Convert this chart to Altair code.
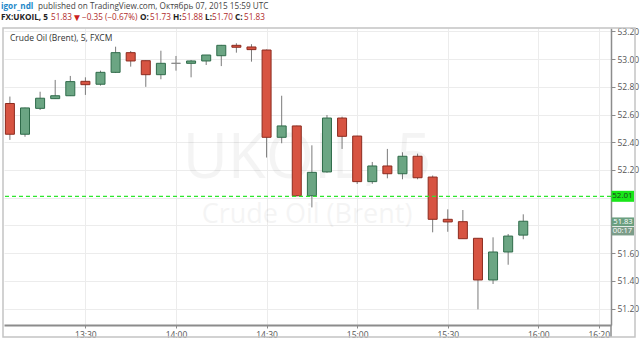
import altair as alt
import pandas as pd

# ---- data (5-minute candles, FX:UKOIL) ----
times = ["13:05", "13:10", "13:15", "13:20", "13:25", "13:30", "13:35", "13:40", "13:45", "13:50",
         "13:55", "14:00", "14:05", "14:10", "14:15", "14:20", "14:25", "14:30", "14:35", "14:40",
         "14:45", "14:50", "14:55", "15:00", "15:05", "15:10", "15:15", "15:20", "15:25", "15:30",
         "15:35", "15:40", "15:45", "15:50", "15:55"]
opens = [52.68, 52.458, 52.645, 52.715, 52.736, 52.84, 52.819, 52.905, 53.047, 52.989,
         52.888, 52.97, 52.97, 52.987, 53.025, 53.10, 53.088, 53.066, 52.436, 52.518,
         52.014, 52.186, 52.575, 52.445, 52.116, 52.229, 52.173, 52.299, 52.149, 51.844,
         51.827, 51.707, 51.406, 51.608, 51.73]
highs = [52.73, 52.65, 52.765, 52.85, 52.879, 52.869, 52.917, 53.09, 53.059, 52.99,
         53.061, 53.023, 52.994, 53.03, 53.103, 53.115, 53.108, 53.07, 52.736, 52.52,
         52.378, 52.597, 52.585, 52.447, 52.258, 52.352, 52.328, 52.318, 52.16, 51.916,
         51.911, 51.707, 51.714, 51.738, 51.88]
lows = [52.417, 52.44, 52.633, 52.713, 52.734, 52.742, 52.809, 52.90, 52.946, 52.80,
        52.855, 52.917, 52.869, 52.958, 52.95, 53.047, 52.982, 52.29, 52.393, 52.01,
        51.93, 52.18, 52.352, 52.099, 52.10, 52.14, 52.133, 52.133, 51.75, 51.754,
        51.704, 51.194, 51.377, 51.516, 51.70]
closes = [52.458, 52.648, 52.718, 52.736, 52.838, 52.816, 52.905, 53.047, 52.987, 52.888,
          52.97, 52.97, 52.987, 53.03, 53.10, 53.086, 53.069, 52.436, 52.518, 52.014,
          52.183, 52.575, 52.443, 52.116, 52.229, 52.173, 52.299, 52.144, 51.844, 51.825,
          51.704, 51.406, 51.608, 51.723, 51.83]

x_ticks = ["13:30", "14:00", "14:30", "15:00", "15:30", "16:00", "16:20"]
y_ticks = [51.2, 51.4, 51.6, 51.8, 52.0, 52.2, 52.4, 52.6, 52.8, 53.0, 53.2]
hidden_y = [51.8, 52.0]
level = 52.01
last_close = 51.83
countdown = "00:17"


def to_min(s):
    h, m = s.split(":")
    return int(h) * 60 + int(m)


df = pd.DataFrame({"t": [to_min(s) for s in times], "open": opens, "high": highs,
                   "low": lows, "close": closes})
df["dir"] = ["up" if c > o else ("down" if c < o else "flat") for o, c in zip(opens, closes)]

W, H = 607, 297
ymin, ymax = 51.081, 53.225
xmin, xmax = 784.7, 982.4
ppu = H / (ymax - ymin)

xs = alt.Scale(domain=[xmin, xmax], nice=False, zero=False)
ys = alt.Scale(domain=[ymin, ymax], nice=False, zero=False)

lbl_expr = "floor(datum.value/60) + ':' + (datum.value % 60 < 10 ? '0' : '') + (datum.value % 60)"
hide_expr = " || ".join([f"abs(datum.value - {v}) < 0.001" for v in hidden_y])

x_axis = alt.Axis(
    values=[to_min(s) for s in x_ticks], labelExpr=lbl_expr, title=None, grid=True,
    gridColor="#ececec", domainColor="#8c8c8c", domainWidth=2, tickColor="#8c8c8c",
    tickSize=3, labelFontSize=8.5, labelColor="#555555", labelPadding=2, labelFlush=False,
    labelOverlap=False)
y_axis = alt.Axis(values=y_ticks, orient="right", title=None, grid=True, gridColor="#ececec",
                  labelExpr=f"({hide_expr}) ? '' : format(datum.value, '.2f')",
                  domainColor="#8c8c8c", domainWidth=1.5, tickColor="#8c8c8c", tickSize=4,
                  labelFontSize=8.5, labelColor="#555555", labelPadding=2, labelFlush=False,
                  labelOverlap=False)


def yd(v):
    return alt.YDatum(v, scale=ys, axis=y_axis)


base = alt.Chart(df)

wicks = base.mark_rule(color="#7a7a7a", strokeWidth=1, clip=True).encode(
    x=alt.X("t:Q", scale=xs, axis=x_axis),
    y=alt.Y("low:Q", scale=ys, axis=y_axis), y2="high:Q")

bodies = base.mark_bar(size=9, strokeWidth=1, clip=True).encode(
    x=alt.X("t:Q", scale=xs, axis=x_axis),
    y=alt.Y("open:Q", scale=ys, axis=y_axis),
    y2="close:Q",
    fill=alt.Fill("dir:N", scale=alt.Scale(domain=["up", "down", "flat"],
                                           range=["#6ba583", "#d75442", "#8a8a8a"]), legend=None),
    stroke=alt.Stroke("dir:N", scale=alt.Scale(domain=["up", "down", "flat"],
                                               range=["#2f6b4a", "#8c2b1f", "#8a8a8a"]), legend=None),
)

one = pd.DataFrame({"a": [0]})
ob = alt.Chart(one)

wm1 = ob.mark_text(text="UKOIL, 5", fontSize=62, font="Open Sans", color="#000000",
                   opacity=0.04, align="center", baseline="alphabetic").encode(
    x=alt.value(303), y=alt.value(150))
wm2 = ob.mark_text(text="Crude Oil (Brent)", fontSize=27, font="Open Sans", color="#000000",
                   opacity=0.04, align="center", baseline="alphabetic").encode(
    x=alt.value(303), y=alt.value(195))

level_line = ob.mark_rule(color="#2ee62e", strokeDash=[4, 3], strokeWidth=1.2).encode(
    y=yd(level))

# price tags on the right axis
half = 5.5 / ppu
tag1 = ob.mark_rect(color="#19e619").encode(
    x=alt.value(607.5), x2=alt.value(630), y=yd(level + half), y2=alt.Y2Datum(level - half))
tag1t = ob.mark_text(text=f"{level:.2f}", fontSize=8, font="Open Sans", color="#1c3d1c",
                     align="center", baseline="middle").encode(
    x=alt.value(618.5), y=yd(level))
c1 = last_close - 0.5 / ppu
tag2 = ob.mark_rect(color="#6b9f80").encode(
    x=alt.value(607.5), x2=alt.value(630), y=yd(c1 + 4.3 / ppu), y2=alt.Y2Datum(c1 - 4.3 / ppu))
tag2t = ob.mark_text(text=f"{last_close:.2f}", fontSize=7.6, font="Open Sans", color="#ffffff",
                     align="center", baseline="middle").encode(
    x=alt.value(619), y=yd(c1))
c2 = c1 - 9.4 / ppu
tag3 = ob.mark_rect(color="#7c9d89").encode(
    x=alt.value(607.5), x2=alt.value(630), y=yd(c2 + 4.3 / ppu), y2=alt.Y2Datum(c2 - 4.3 / ppu))
tag3t = ob.mark_text(text=countdown, fontSize=7.6, font="Open Sans", color="#ffffff",
                     align="center", baseline="middle").encode(
    x=alt.value(618.5), y=yd(c2))

# cover the overflowing part of the last time label, continue the price-axis line
cover = ob.mark_rect(color="#ffffff").encode(
    x=alt.value(608), x2=alt.value(636), y=alt.value(299), y2=alt.value(309))
vline = ob.mark_rule(color="#8c8c8c", strokeWidth=1.5).encode(
    x=alt.value(607), y=alt.value(297), y2=alt.value(309))
frame = ob.mark_rect(fillOpacity=0, stroke="#c4c4c4", strokeWidth=1.5).encode(
    x=alt.value(-1), x2=alt.value(631), y=alt.value(0), y2=alt.value(309))

inner = ob.mark_text(text="Crude Oil (Brent), 5, FXCM", fontSize=8.5, font="Open Sans",
                     color="#333333", align="left", baseline="middle").encode(
    x=alt.value(6), y=alt.value(10))

F = "Open Sans"
RED = "#b02a2a"
DARK = "#222222"
# (text, x in page pixels, y in page pixels, colour, weight, size)
hdr = [
    ("igor_ndl", 1, 7, "#1b87c9", "bold", 8.2),
    ("published on TradingView.com, Октябрь 07, 2015 15:59 UTC", 38, 7, "#444444", "normal", 8.2),
    ("FX:UKOIL, 5", 1, 18, DARK, "bold", 8.2),
    ("51.83", 51, 18, RED, "normal", 8.2),
    ("▼", 72, 18, "#cc1f1f", "normal", 10),
    ("−0.35 (−0.67%)", 82, 18, RED, "normal", 8.2),
    ("O:", 140, 18, DARK, "bold", 8.2),
    ("51.73", 150, 18, RED, "normal", 8.2),
    ("H:", 173, 18, DARK, "bold", 8.2),
    ("51.88", 182, 18, RED, "normal", 8.2),
    ("L:", 205, 18, DARK, "bold", 8.2),
    ("51.70", 212, 18, RED, "normal", 8.2),
    ("C:", 235, 18, DARK, "bold", 8.2),
    ("51.83", 244, 18, RED, "normal", 8.2),
]
hdr_layers = [ob.mark_text(text=s, fontSize=fs, font=F, color=c, fontWeight=w, align="left",
                           baseline="middle").encode(x=alt.value(px - 4), y=alt.value(py - 28))
              for s, px, py, c, w, fs in hdr]

chart = alt.layer(wm1, wm2, wicks, bodies, level_line, tag1, tag1t, tag2, tag2t, tag3, tag3t,
                  cover, vline, frame, inner, *hdr_layers).properties(
    width=W, height=H, padding={"left": 4, "top": 28, "right": 29, "bottom": 17},
    autosize=alt.AutoSizeParams(type="none"), background="#ffffff"
).configure_view(stroke=None).configure_axis(labelFont="Open Sans", labelOverlap=False)

chart.save("out.html", embed_options={"renderer": "svg", "actions": False})
